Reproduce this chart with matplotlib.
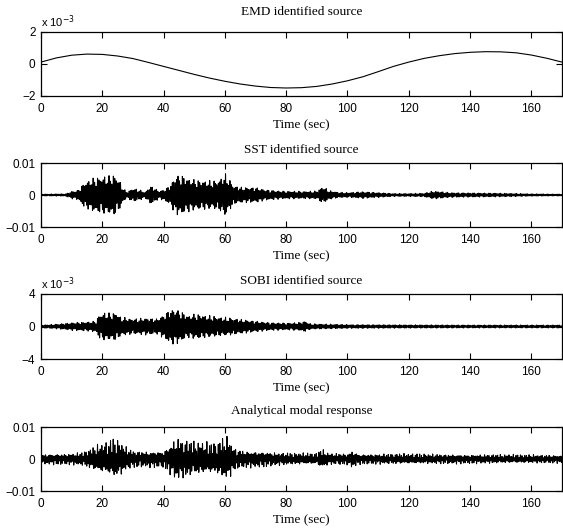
import numpy as np
import matplotlib
matplotlib.use("Agg")
import matplotlib.pyplot as plt

# ---------------- data ----------------
titles = ["EMD identified source", "SST identified source",
          "SOBI identified source", "Analytical modal response"]
xticks = [0, 20, 40, 60, 80, 100, 120, 140, 160]

# EMD source (slow curve), values in 1e-3
emd_t = [0, 5, 10, 15, 20, 25, 30, 35, 40, 45, 50, 55, 60, 65, 70, 75, 80, 85,
         90, 95, 100, 105, 110, 115, 120, 125, 130, 135, 140, 145, 150, 155,
         160, 165, 170]
emd_v = [0.12, 0.38, 0.55, 0.62, 0.6, 0.5, 0.34, 0.1, -0.15, -0.4, -0.65,
         -0.88, -1.08, -1.25, -1.38, -1.47, -1.5, -1.48, -1.4, -1.25, -1.05,
         -0.8, -0.48, -0.15, 0.12, 0.35, 0.52, 0.65, 0.73, 0.77, 0.76, 0.7,
         0.56, 0.36, 0.12]

# envelopes of the oscillating sources, values in 1e-3
sst_t = [0, 8, 10, 12, 14, 17, 19, 22, 24, 25.5, 27, 28, 30, 32, 34, 35.5, 37,
         38.5, 40, 42, 44, 46, 48, 50, 53, 56, 58, 60, 61.5, 63, 66, 70, 73, 78,
         85, 90, 92, 94, 97, 100, 105, 110, 115, 120, 125, 128, 130, 133, 140,
         150, 160, 170]
sst_a = [0.3, 0.4, 1.2, 1.5, 4.0, 5.5, 6.0, 6.2, 6.8, 5.0, 2.0, 1.0, 2.2, 1.8,
         0.9, 3.0, 2.5, 1.2, 1.8, 3.0, 6.5, 6.5, 5.5, 5.0, 4.8, 4.5, 5.0, 7.0,
         5.0, 3.0, 2.5, 2.5, 1.8, 1.3, 1.2, 1.3, 2.8, 1.5, 0.9, 0.8, 1.1, 0.8,
         0.5, 0.5, 0.6, 1.3, 1.2, 0.8, 0.7, 0.6, 0.4, 0.3]

sobi_t = [0, 5, 10, 15, 18, 19, 21, 23, 24.5, 26, 30, 35, 38, 40, 42, 44, 46,
          48, 50, 52, 54, 57, 62, 66, 70, 75, 80, 84, 86, 88, 95, 100, 120,
          140, 170]
sobi_a = [0.2, 0.3, 0.5, 0.6, 0.7, 1.6, 1.8, 1.7, 1.9, 1.2, 1.0, 1.1, 1.0, 1.5,
          2.2, 2.3, 1.9, 1.4, 1.6, 1.6, 1.4, 1.3, 1.1, 0.9, 0.7, 0.5, 0.45,
          0.5, 0.7, 0.35, 0.3, 0.25, 0.22, 0.2, 0.2]

ana_t = [0, 10, 13, 16, 19, 22, 24, 26, 28, 30, 35, 40, 42, 44, 46, 50, 55,
         57, 59, 61, 63, 66, 72, 78, 85, 90, 91.5, 94, 100, 101.5, 104, 120,
         140, 170]
ana_a = [1.8, 2.0, 2.3, 3.5, 5.0, 6.0, 7.2, 6.0, 4.0, 3.0, 2.8, 3.0, 5.0, 7.5,
         7.0, 6.0, 5.5, 5.5, 7.0, 7.8, 4.0, 3.0, 2.8, 2.2, 2.0, 2.0, 3.4, 2.0,
         2.0, 3.0, 1.8, 1.8, 1.6, 1.4]

ylims = [2e-3, 0.01, 4e-3, 0.01]
# ------------------------------------------------------------

plt.rcParams['font.family'] = ['Liberation Sans', 'DejaVu Sans']
plt.rcParams['axes.unicode_minus'] = True

W, H = 563, 532
fig = plt.figure(figsize=(W / 100, H / 100), dpi=100)

tops = [32, 163, 294, 427]
bots = [96, 227, 359, 491]
left, right = 41, 562
title_pads = [12, 7, 7, 9.5]

# oscillation shape drawn under the read envelopes
tt = np.arange(0, 170.001, 0.04)
carrier = (np.sin(2 * np.pi * 2.13 * tt) * 0.72
           + np.sin(2 * np.pi * 2.71 * tt + 0.7) * 0.18
           + np.sin(2 * np.pi * 3.47 * tt + 1.9) * 0.10)
carrier2 = (np.sin(2 * np.pi * 2.13 * tt) * 0.55
            + np.sin(2 * np.pi * 1.37 * tt + 0.3) * 0.2
            + np.sin(2 * np.pi * 3.53 * tt + 1.1) * 0.15
            + np.sin(2 * np.pi * 4.71 * tt + 2.3) * 0.10)

for i in range(4):
    ax = fig.add_axes([left / W, 1 - bots[i] / H, (right - left) / W,
                       (bots[i] - tops[i]) / H])
    if i == 0:
        ax.plot(emd_t, np.array(emd_v) * 1e-3, color='k', lw=0.8)
    elif i == 1:
        env = np.interp(tt, sst_t, sst_a) * 1e-3
        ax.plot(tt, env * carrier, color='k', lw=0.75)
    elif i == 2:
        env = np.interp(tt, sobi_t, sobi_a) * 1e-3
        ax.plot(tt, env * carrier, color='k', lw=0.75)
    else:
        env = np.interp(tt, ana_t, ana_a) * 1e-3
        ax.plot(tt, env * carrier2, color='k', lw=0.75)

    lim = ylims[i]
    ax.set_xlim(0, 170)
    ax.set_ylim(-lim, lim)
    ax.set_xticks(xticks)
    ax.set_yticks([-lim, 0, lim])
    if i in (0, 2):
        m = int(round(lim * 1e3))
        ax.set_yticklabels(["\u2212%d" % m, "0", "%d" % m])
        ax.text(0, 1.03, r"x 10$^{-3}$", transform=ax.transAxes,
                ha='left', va='bottom', fontsize=8)
    else:
        ax.set_yticklabels(["\u22120.01", "0", "0.01"])
    ax.tick_params(direction='in', length=4, width=0.8, labelsize=8.5,
                   top=True, right=True)
    ax.tick_params(axis='x', pad=5)
    ax.tick_params(axis='y', pad=4)
    for s in ax.spines.values():
        s.set_linewidth(0.9)
    ax.set_title(titles[i], family='Liberation Serif', fontsize=9.5,
                 pad=title_pads[i])
    ax.set_xlabel("Time (sec)", family='Liberation Serif', fontsize=9.5,
                  labelpad=3)

fig.savefig("out.png", dpi=100)
